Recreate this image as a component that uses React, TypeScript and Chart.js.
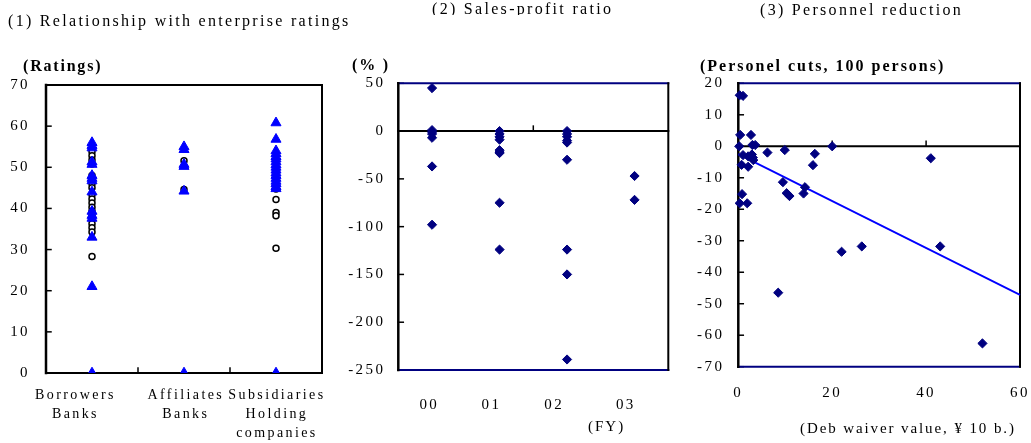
import React, { useEffect, useRef } from 'react';
import { Chart, registerables } from 'chart.js';

Chart.register(...registerables);

const SERIF = '"Liberation Serif", "DejaVu Serif", "Times New Roman", serif';

// ---------- Panel 1: Relationship with enterprise ratings ----------
const ratingCategories: string[][] = [
  ['Borrowers', 'Banks'],
  ['Affiliates', 'Banks'],
  ['Subsidiaries', 'Holding', 'companies'],
];
// triangles (blue) per category
const borrowersTri = [56, 55.3, 54.7, 51.3, 50.7, 48, 47.3, 46.7, 44, 39.3, 38.3, 37.6, 33, 21, 0];
const affiliatesTri = [55, 54.3, 50.7, 50.2, 44.2, 0];
const subsidiariesTri = [60.8, 56.8, 54, 53.3, 52.6, 52, 51.3, 50.6, 50, 49.3, 48.6, 48, 47.3, 46.6, 46, 45.3, 44.8, 0];
// open circles (black) per category
const borrowersCirc = [53.8, 52.8, 51.8, 50.8, 48, 47, 46, 45, 43.3, 42.3, 41.3, 40.3, 39.3, 38.3, 37.3, 36.3, 35.3, 34.3, 28.3];
const affiliatesCirc = [51.6, 44.6];
const subsidiariesCirc = [44.7, 42.2, 39.0, 38.2, 30.3];
const ratingTicks = [0, 10, 20, 30, 40, 50, 60, 70];

// ---------- Panel 2: Sales-profit ratio ----------
const fyLabels = ['00', '01', '02', '03'];
const fy00 = [45, 1, -1, -3, -7, -37, -98];
const fy01 = [0, -3, -6, -9, -20, -22, -23, -75, -124];
const fy02 = [0, -3, -6, -10, -12, -30, -124, -150, -239];
const fy03 = [-47, -72];

// ---------- Panel 3: Personnel reduction ----------
const waiverX = [0.3, 1.0, 0.4, 2.7, 0.2, 3.0, 3.6, 6.2, 9.9, 20.0, 16.3, 15.9, 1.0, 2.1, 3.1, 2.9, 0.7, 2.1, 3.2, 9.5, 10.3, 10.9, 13.9, 14.2, 0.8, 0.3, 1.9, 8.5, 22.0, 26.3, 43.0, 52.0, 41.0];
const cutsY = [16.2, 16.0, 3.6, 3.6, 0, 0.4, 0.4, -2.0, -1.2, 0, -2.4, -6.0, -2.8, -3.2, -3.6, -2.6, -5.9, -6.5, -4.4, -11.4, -14.9, -15.8, -15.0, -13.0, -15.2, -18.1, -18.1, -46.5, -33.5, -31.8, -31.8, -62.6, -3.8];
const trendX = [0, 60];
const trendY = [-2.5, -47.2];

const NAVY = '#000080';
const BLUE = '#0000ff';

const tickFont = { family: SERIF, size: 15, lineHeight: 1.2 };

// label anchor positions on the category axes (in axis units), as in the original layout
const ratingLabelAt = [-0.18, 1.02, 2.01];
const fyLabelAt = [-0.04, 0.88, 1.81, 2.87];

const framePlugin = {
  id: 'frame',
  beforeLayout(chart: any) {
    (chart.ctx as any).letterSpacing = '2.4px';
  },
  beforeDraw(chart: any) {
    (chart.ctx as any).letterSpacing = '2.4px';
  },
  beforeDatasetsDraw(chart: any, _args: any, opts: any) {
    const { ctx, chartArea: a, scales } = chart;
    const x = scales.x;
    const y = scales.y;
    ctx.save();
    ctx.lineCap = 'square';
    const line = (x1: number, y1: number, x2: number, y2: number, color: string, w: number) => {
      ctx.beginPath();
      ctx.strokeStyle = color;
      ctx.lineWidth = w;
      ctx.moveTo(x1, y1);
      ctx.lineTo(x2, y2);
      ctx.stroke();
    };
    let base = a.bottom;
    if (opts.zero) {
      base = y.getPixelForValue(0);
      line(a.left, base, a.right, base, '#000', 2);
    }
    for (const t of y.ticks) {
      const py = y.getPixelForValue(t.value);
      line(a.left, py, a.left + 5, py, '#000', 1.5);
    }
    for (const v of opts.xMarks || []) {
      const px = x.getPixelForValue(v);
      line(px, base, px, base - 5, '#000', 1.5);
    }
    line(a.left, a.top, a.right, a.top, opts.topColor, 2);
    line(a.left, a.bottom, a.right, a.bottom, opts.bottomColor, 2);
    line(a.left, a.top, a.left, a.bottom, '#000', 2.5);
    line(a.right, a.top, a.right, a.bottom, '#000', 2);
    ctx.restore();
  },
};

const noGrid = { display: false, drawTicks: false };

function panel1Config(): any {
  const tri: any[] = [];
  const circ: any[] = [];
  [borrowersTri, affiliatesTri, subsidiariesTri].forEach((arr, i) => arr.forEach((v) => tri.push({ x: i, y: v })));
  [borrowersCirc, affiliatesCirc, subsidiariesCirc].forEach((arr, i) => arr.forEach((v) => circ.push({ x: i, y: v })));
  const clipBottom = { left: false, top: false, right: false, bottom: 0 };
  return {
    type: 'scatter',
    data: {
      datasets: [
        { label: 'tri', data: tri, pointStyle: 'triangle', radius: 5.8, backgroundColor: BLUE, borderColor: BLUE, borderWidth: 1, clip: clipBottom },
        { label: 'circ', data: circ, pointStyle: 'circle', radius: 3, backgroundColor: '#fff', borderColor: '#000', borderWidth: 1.5, clip: clipBottom },
      ],
    },
    options: {
      responsive: false,
      animation: false,
      events: [],
      layout: { padding: { left: 0, top: 85, right: 18, bottom: 0 } },
      plugins: {
        legend: { display: false },
        tooltip: { enabled: false },
        frame: { zero: false, xMarks: [0.5, 1.5], topColor: '#000', bottomColor: '#000' },
      },
      scales: {
        x: {
          type: 'linear', min: -0.5, max: 2.5,
          grid: noGrid, border: { display: false },
          afterBuildTicks: (s: any) => { s.ticks = ratingLabelAt.map((v) => ({ value: v })); },
          afterFit: (s: any) => { s.height = 70; s.paddingLeft = 0; s.paddingRight = 0; },
          ticks: {
            callback: (_v: any, i: number) => ratingCategories[i] ?? '',
            font: { family: SERIF, size: 14, lineHeight: 1.36 },
            color: '#000', padding: 12.5, autoSkip: false, minRotation: 0, maxRotation: 0,
          },
        },
        y: {
          min: 0, max: 70,
          grid: noGrid, border: { display: false },
          afterBuildTicks: (s: any) => { s.ticks = ratingTicks.map((v) => ({ value: v })); },
          afterFit: (s: any) => { s.width = 46; s.paddingTop = 0; s.paddingBottom = 0; },
          ticks: { font: tickFont, color: '#000', padding: 16 },
        },
      },
    },
    plugins: [framePlugin],
  };
}

function panel2Config(): any {
  const pts: any[] = [];
  [fy00, fy01, fy02, fy03].forEach((arr, i) => arr.forEach((v) => pts.push({ x: i, y: v })));
  return {
    type: 'scatter',
    data: {
      datasets: [
        { label: 'ratio', data: pts, pointStyle: 'rectRot', radius: 4.6, backgroundColor: NAVY, borderColor: NAVY, borderWidth: 1, clip: false },
      ],
    },
    options: {
      responsive: false,
      animation: false,
      events: [],
      layout: { padding: { left: 0, top: 83.3, right: 16.7, bottom: 0 } },
      plugins: {
        legend: { display: false },
        tooltip: { enabled: false },
        frame: { zero: true, xMarks: [1.5], topColor: NAVY, bottomColor: NAVY },
      },
      scales: {
        x: {
          type: 'linear', min: -0.5, max: 3.5,
          grid: noGrid, border: { display: false },
          afterBuildTicks: (s: any) => { s.ticks = fyLabelAt.map((v) => ({ value: v })); },
          afterFit: (s: any) => { s.height = 73; s.paddingLeft = 0; s.paddingRight = 0; },
          ticks: {
            callback: (_v: any, i: number) => fyLabels[i] ?? '',
            font: tickFont, color: '#000', padding: 26,
            autoSkip: false, minRotation: 0, maxRotation: 0,
          },
        },
        y: {
          min: -250, max: 50,
          grid: noGrid, border: { display: false },
          afterFit: (s: any) => { s.width = 58.3; s.paddingTop = 0; s.paddingBottom = 0; },
          ticks: { stepSize: 50, font: tickFont, color: '#000', padding: 13 },
        },
      },
    },
    plugins: [framePlugin],
  };
}

function panel3Config(): any {
  const pts = waiverX.map((x, i) => ({ x, y: cutsY[i] }));
  const trend = trendX.map((x, i) => ({ x, y: trendY[i] }));
  return {
    type: 'scatter',
    data: {
      datasets: [
        { label: 'cuts', data: pts, pointStyle: 'rectRot', radius: 4.6, backgroundColor: NAVY, borderColor: NAVY, borderWidth: 1, clip: false },
        { type: 'line', label: 'trend', data: trend, borderColor: BLUE, borderWidth: 1.8, pointRadius: 0, fill: false, showLine: true, clip: false },
      ],
    },
    options: {
      responsive: false,
      animation: false,
      events: [],
      layout: { padding: { left: 0, top: 83.3, right: 11, bottom: 0 } },
      plugins: {
        legend: { display: false },
        tooltip: { enabled: false },
        frame: { zero: true, xMarks: [20, 40], topColor: NAVY, bottomColor: NAVY },
      },
      scales: {
        x: {
          type: 'linear', min: 0, max: 60,
          grid: noGrid, border: { display: false },
          afterFit: (s: any) => { s.height = 76.3; s.paddingLeft = 0; s.paddingRight = 0; },
          ticks: { stepSize: 20, font: tickFont, color: '#000', padding: 17.5, autoSkip: false, minRotation: 0, maxRotation: 0 },
        },
        y: {
          min: -70, max: 20,
          grid: noGrid, border: { display: false },
          afterFit: (s: any) => { s.width = 53.3; s.paddingTop = 0; s.paddingBottom = 0; },
          ticks: { stepSize: 10, font: tickFont, color: '#000', padding: 14 },
        },
      },
    },
    plugins: [framePlugin],
  };
}

const txt = (extra: React.CSSProperties): React.CSSProperties => ({
  position: 'absolute',
  fontFamily: SERIF,
  fontSize: 16,
  lineHeight: '18px',
  letterSpacing: '2.3px',
  whiteSpace: 'nowrap',
  color: '#000',
  ...extra,
});

export default function App() {
  const r1 = useRef<HTMLCanvasElement>(null);
  const r2 = useRef<HTMLCanvasElement>(null);
  const r3 = useRef<HTMLCanvasElement>(null);

  useEffect(() => {
    const charts = [
      new Chart(r1.current as HTMLCanvasElement, panel1Config()),
      new Chart(r2.current as HTMLCanvasElement, panel2Config()),
      new Chart(r3.current as HTMLCanvasElement, panel3Config()),
    ];
    return () => charts.forEach((c) => c.destroy());
  }, []);

  return (
    <div style={{ position: 'absolute', left: 0, top: 0, width: 1031, height: 443, background: '#fff', overflow: 'hidden' }}>
      <canvas ref={r1} width={340} height={443} style={{ position: 'absolute', left: 0, top: 0, width: 340, height: 443 }} />
      <canvas ref={r2} width={345} height={443} style={{ position: 'absolute', left: 340, top: 0, width: 345, height: 443 }} />
      <canvas ref={r3} width={346} height={443} style={{ position: 'absolute', left: 685, top: 0, width: 346, height: 443 }} />

      <div style={txt({ left: 8, top: 12 })}>(1) Relationship with enterprise ratings</div>
      <div style={{ position: 'absolute', left: 432, top: 0, width: 220, height: 15, overflow: 'hidden' }}>
        <div style={txt({ left: 0, top: 0 })}>(2) Sales-profit ratio</div>
      </div>
      <div style={txt({ left: 760, top: 1 })}>(3) Personnel reduction</div>

      <div style={txt({ left: 23, top: 57, fontWeight: 'bold', letterSpacing: '1.8px' })}>(Ratings)</div>
      <div style={txt({ left: 352, top: 56, fontWeight: 'bold', letterSpacing: '1.8px' })}>(% )</div>
      <div style={txt({ left: 700, top: 57, fontWeight: 'bold', letterSpacing: '2px' })}>(Personel cuts, 100 persons)</div>

      <div style={txt({ left: 588, top: 416.5, fontSize: 15, letterSpacing: '2px' })}>(FY)</div>
      <div style={txt({ left: 800, top: 419, fontSize: 15, letterSpacing: '1.9px' })}>(Deb waiver value,  ¥ 10 b.)</div>
    </div>
  );
}
